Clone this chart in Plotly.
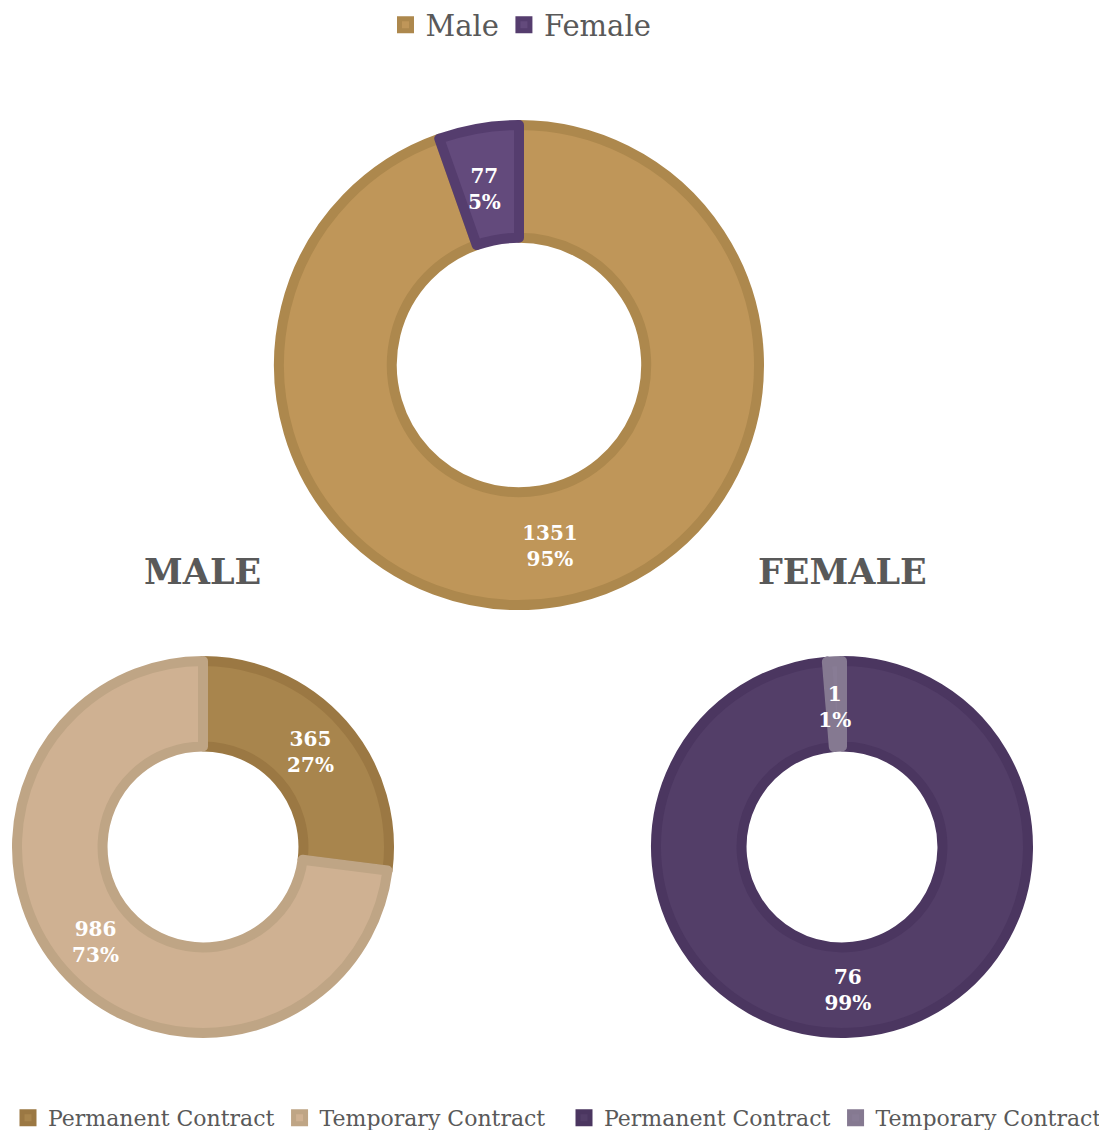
import plotly.graph_objects as go

# Veri
cinsiyet = ["Male", "Female"]
cinsiyet_sayi = [1351, 77]

sozlesme = ["Permanent Contract", "Temporary Contract"]
erkek_sayi = [365, 986]
kadin_sayi = [76, 1]

FONT = "DejaVu Serif"
GRI = "#595959"
W, H = 1107, 1130
KAYMA = 8  # sayfa gövdesinin kenar boşluğu


def px_x(p):
    return (p - KAYMA) / W


def px_y(p):
    return 1 - (p - KAYMA) / H


def alan(cx, cy, r):
    return dict(x=[px_x(cx - r), px_x(cx + r)], y=[px_y(cy + r), px_y(cy - r)])


ETIKET = "%{value}<br>%{percent:.0%}"
yazi = dict(family=FONT, size=20, color="white", weight="bold")

fig = go.Figure()

# Üst grafik: cinsiyet dağılımı
fig.add_trace(go.Pie(labels=cinsiyet, values=cinsiyet_sayi, hole=0.53,
                     sort=False, direction="clockwise",
                     marker=dict(colors=["#BF9659", "#634A7C"],
                                 line=dict(color=["#AD884D", "#553D6E"], width=10)),
                     texttemplate=[ETIKET, "\u00a0<br>\u00a0<br>" + ETIKET],
                     textposition="inside", insidetextorientation="horizontal",
                     textfont=yazi, domain=alan(519, 365, 240),
                     legend="legend", legendgroup="g1"))

# Erkek sözleşme dağılımı
fig.add_trace(go.Pie(labels=sozlesme, values=erkek_sayi, hole=0.54,
                     sort=False, direction="clockwise",
                     marker=dict(colors=["#A8854D", "#CFB192"],
                                 line=dict(color=["#9B7843", "#BFA585"], width=10)),
                     texttemplate=ETIKET,
                     textposition="inside", insidetextorientation="horizontal",
                     textfont=yazi, domain=alan(203, 847, 186),
                     legend="legend2", legendgroup="g2"))

# Kadın sözleşme dağılımı
fig.add_trace(go.Pie(labels=sozlesme, values=kadin_sayi, hole=0.54,
                     sort=False, direction="clockwise",
                     marker=dict(colors=["#533E68", "#887C95"],
                                 line=dict(color=["#4B3660", "#857991"], width=10)),
                     texttemplate=[ETIKET, "\u00a0<br>\u00a0<br>\u00a0<br>" + ETIKET],
                     textposition="inside", insidetextorientation="horizontal",
                     textfont=yazi, domain=alan(842, 847, 186),
                     legend="legend3", legendgroup="g3"))

fig.add_annotation(text="<b>MALE</b>", x=px_x(203), y=px_y(571), xref="paper", yref="paper",
                   xanchor="center", yanchor="middle", showarrow=False,
                   font=dict(family=FONT, size=35, color=GRI))
fig.add_annotation(text="<b>FEMALE</b>", x=px_x(842), y=px_y(571), xref="paper", yref="paper",
                   xanchor="center", yanchor="middle", showarrow=False,
                   font=dict(family=FONT, size=35, color=GRI))

fig.update_layout(
    width=W, height=H,
    margin=dict(l=0, r=0, t=0, b=0, autoexpand=False),
    paper_bgcolor="white",
    uniformtext=dict(minsize=20, mode="show"),
    legend=dict(orientation="h", traceorder="normal", x=px_x(521), xanchor="center",
                y=px_y(25), yanchor="middle",
                font=dict(family=FONT, size=29, color=GRI)),
    legend2=dict(orientation="h", traceorder="normal", x=0.0, xanchor="left",
                 y=px_y(1118), yanchor="middle",
                 font=dict(family=FONT, size=22, color=GRI)),
    legend3=dict(orientation="h", traceorder="normal", x=px_x(564), xanchor="left",
                 y=px_y(1118), yanchor="middle",
                 font=dict(family=FONT, size=22, color=GRI)),
)

fig.write_html("out.html")
